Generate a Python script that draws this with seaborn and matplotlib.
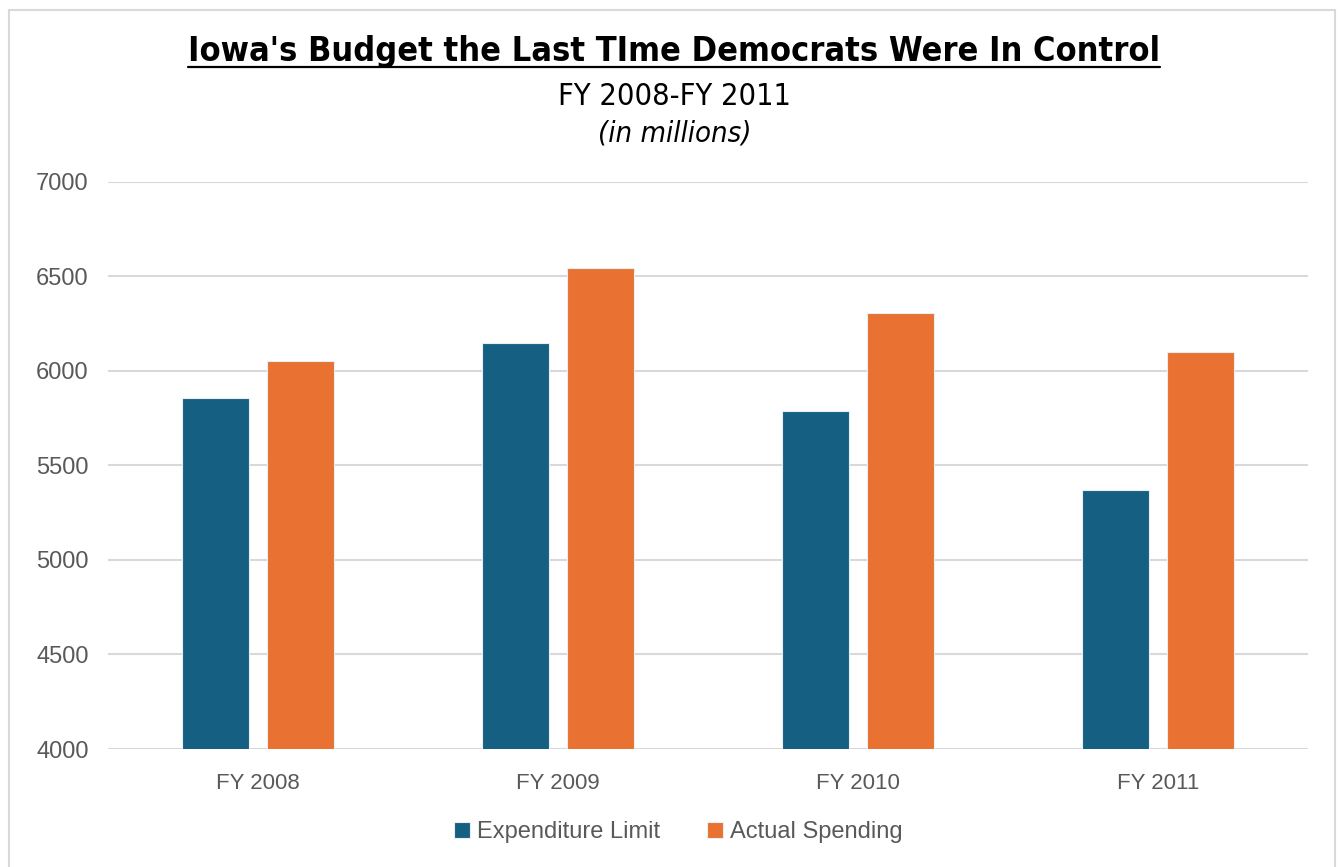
import matplotlib
matplotlib.use("Agg")
import matplotlib.pyplot as plt
from matplotlib.patches import Rectangle
from matplotlib.lines import Line2D
import seaborn as sns
import pandas as pd

categories = ["FY 2008", "FY 2009", "FY 2010", "FY 2011"]
expenditure_limit = [5855, 6149, 5789, 5370]
actual_spending = [6052, 6545, 6309, 6100]
series_names = ["Expenditure Limit", "Actual Spending"]
y_ticks = [4000, 4500, 5000, 5500, 6000, 6500, 7000]

title = "Iowa's Budget the Last TIme Democrats Were In Control"
subtitle = "FY 2008-FY 2011"
subsubtitle = "(in millions)"

colors = ["#156082", "#E97132"]

df = pd.DataFrame({
    "Year": categories * 2,
    "Value": expenditure_limit + actual_spending,
    "Series": [series_names[0]] * 4 + [series_names[1]] * 4,
})

sns.set_theme(style="white")
plt.rcParams['font.family'] = ['Liberation Sans', 'DejaVu Sans']

fig = plt.figure(figsize=(13.38, 8.67), dpi=100)
ax = fig.add_axes([0.0807, 0.1361, 0.8969, 0.654])

sns.barplot(data=df, x="Year", y="Value", hue="Series", palette=colors,
            saturation=1, width=0.567, gap=0.21, ax=ax, edgecolor="#E8EEF2",
            linewidth=0.8, legend=True)

ax.set_ylim(4000, 7000)
ax.set_yticks(y_ticks)
ax.set_yticklabels([str(t) for t in y_ticks], color="#595959", fontsize=17)
ax.set_xlim(-0.5, 3.5)
ax.tick_params(axis="x", colors="#595959", labelsize=16, length=0, pad=17)
ax.tick_params(axis="y", length=0, pad=14)
ax.set_xlabel("")
ax.set_ylabel("")
ax.yaxis.grid(True, color="#D9D9D9", linewidth=1.5)
ax.set_axisbelow(True)
for s in ax.spines.values():
    s.set_visible(False)

handles, labels = ax.get_legend_handles_labels()
ax.legend_.remove()
fig.legend(handles, labels, loc="center", bbox_to_anchor=(0.507, 0.040), ncol=2,
           frameon=False, fontsize=17, handlelength=0.65, handleheight=0.65,
           handletextpad=0.3, columnspacing=2.0, labelcolor="#595959")

narrow = ['Liberation Sans Narrow', 'DejaVu Sans']
t = fig.text(0.504, 0.941, title, ha="center", va="center", fontsize=24.6,
             fontweight="bold", family=narrow, fontstretch="condensed", color="#000000")
fig.text(0.504, 0.889, subtitle, ha="center", va="center", fontsize=22,
         family=narrow, fontstretch="condensed", color="#000000")
fig.text(0.504, 0.846, subsubtitle, ha="center", va="center", fontsize=21,
         family=narrow, fontstretch="condensed", style="italic", color="#000000")

fig.canvas.draw()
bb = t.get_window_extent(renderer=fig.canvas.get_renderer())
inv = fig.transFigure.inverted()
(x0, y0), (x1, y1) = inv.transform([(bb.x0, bb.y0), (bb.x1, bb.y1)])
fig.add_artist(Line2D([x0, x1], [y0 + 0.001, y0 + 0.001], transform=fig.transFigure,
                      color="#000000", linewidth=1.6))

fig.add_artist(Rectangle((0.007, -0.01), 0.991, 0.999, transform=fig.transFigure,
                         fill=False, edgecolor="#D9D9D9", linewidth=1.5))

fig.savefig("out.png", dpi=100, facecolor="white")
